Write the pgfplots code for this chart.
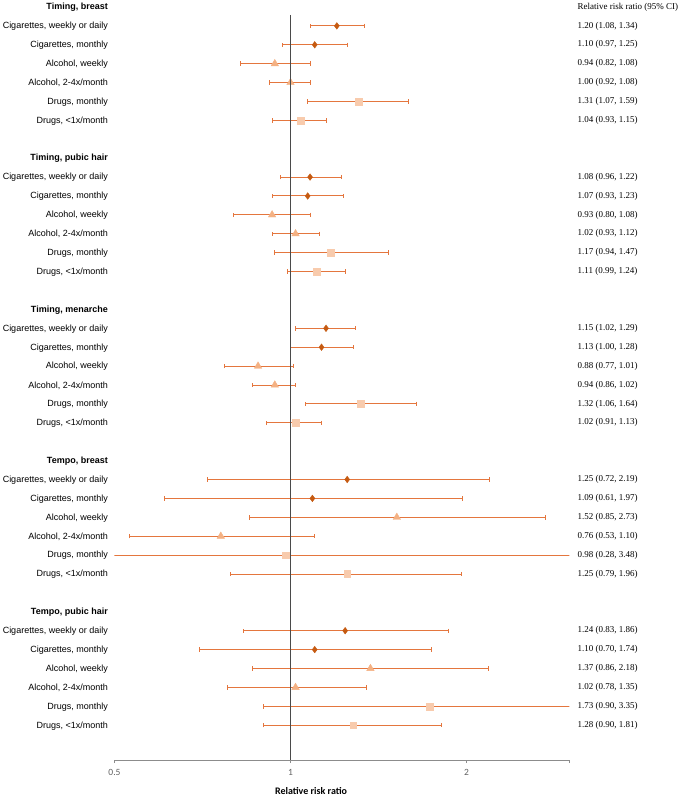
\documentclass[border=0pt]{standalone}
\usepackage{fontspec}
\setmainfont{Liberation Serif}
\newfontfamily\arial{Liberation Sans}
\newfontfamily\calibri{Carlito}
\usepackage{pgfplots}
\usepackage{pgfplotstable}
\pgfplotsset{compat=1.18}

\definecolor{cigc}{HTML}{C55A11}
\definecolor{alcc}{HTML}{F4B183}
\definecolor{drugc}{HTML}{F8CBAD}
\definecolor{barc}{HTML}{E4763E}
\definecolor{refc}{HTML}{4A4A4A}
\definecolor{axc}{HTML}{8C8C8C}

% row = vertical slot (0 = top header, counted downward)
\pgfplotstableread{
row est lo hi
-1  1.20 1.08 1.34
-2  1.10 0.97 1.25
-9  1.08 0.96 1.22
-10 1.07 0.93 1.23
-17 1.15 1.02 1.29
-18 1.13 1.00 1.28
-25 1.25 0.72 2.19
-26 1.09 0.61 1.97
-33 1.24 0.83 1.86
-34 1.10 0.70 1.74
}\cig
\pgfplotstableread{
row est lo hi
-3  0.94 0.82 1.08
-4  1.00 0.92 1.08
-11 0.93 0.80 1.08
-12 1.02 0.93 1.12
-19 0.88 0.77 1.01
-20 0.94 0.86 1.02
-27 1.52 0.85 2.73
-28 0.76 0.53 1.10
-35 1.37 0.86 2.18
-36 1.02 0.78 1.35
}\alc
\pgfplotstableread{
row est lo hi
-5  1.31 1.07 1.59
-6  1.04 0.93 1.15
-13 1.17 0.94 1.47
-14 1.11 0.99 1.24
-21 1.32 1.06 1.64
-22 1.02 0.91 1.13
-29 0.98 0.28 3.48
-30 1.25 0.79 1.96
-37 1.73 0.90 3.35
-38 1.28 0.90 1.81
}\drug

\pgfplotsset{
  ci/.style={
    only marks,
    error bars/x dir=both, error bars/x explicit,
    error bars/error mark=|,
    error bars/error bar style={barc, line width=1bp},
    error bars/error mark options={barc, line width=1bp, mark size=2.2bp},
  },
}

\newcommand\rowfont{\fontsize{9bp}{10bp}\selectfont}
\tikzset{rr/.style={anchor=west, inner sep=0pt, xshift=8bp, font=\rowfont}}

\begin{document}
\begin{tikzpicture}
\path[use as bounding box] (-114.5bp,-40bp) rectangle (568.5bp,760bp);

\begin{axis}[
  scale only axis, width=455bp, height=760bp,
  xmode=log, xmin=0.5, xmax=3,
  ymin=-39.84, ymax=0.37,
  at={(0,0)}, anchor=south west,
  clip mode=individual,
  axis x line*=bottom, axis y line*=left,
  y axis line style={draw=none},
  x axis line style={axc, line width=0.8bp},
  xtick={0.5,1,2,3}, xticklabels={0.5,1,2,{}},
  xtick align=outside, major tick length=3bp,
  x tick style={axc, line width=0.8bp},
  xticklabel style={font=\calibri\fontsize{9.5bp}{10bp}\selectfont, text=black!62, anchor=north, inner sep=0pt, yshift=-6bp},
  ytick={0,-1,-2,-3,-4,-5,-6,-8,-9,-10,-11,-12,-13,-14,-16,-17,-18,-19,-20,-21,-22,-24,-25,-26,-27,-28,-29,-30,-32,-33,-34,-35,-36,-37,-38},
  yticklabels={
    {\textbf{Timing, breast}},{Cigarettes, weekly or daily},{Cigarettes, monthly},{Alcohol, weekly},{Alcohol, 2-4x/month},{Drugs, monthly},{Drugs, <1x/month},
    {\textbf{Timing, pubic hair}},{Cigarettes, weekly or daily},{Cigarettes, monthly},{Alcohol, weekly},{Alcohol, 2-4x/month},{Drugs, monthly},{Drugs, <1x/month},
    {\textbf{Timing, menarche}},{Cigarettes, weekly or daily},{Cigarettes, monthly},{Alcohol, weekly},{Alcohol, 2-4x/month},{Drugs, monthly},{Drugs, <1x/month},
    {\textbf{Tempo, breast}},{Cigarettes, weekly or daily},{Cigarettes, monthly},{Alcohol, weekly},{Alcohol, 2-4x/month},{Drugs, monthly},{Drugs, <1x/month},
    {\textbf{Tempo, pubic hair}},{Cigarettes, weekly or daily},{Cigarettes, monthly},{Alcohol, weekly},{Alcohol, 2-4x/month},{Drugs, monthly},{Drugs, <1x/month}},
  y tick style={draw=none},
  yticklabel style={font=\arial\rowfont, anchor=east, inner sep=0pt, xshift=-6.5bp, yshift=-0.5bp},
  xlabel={Relative risk ratio},
  xlabel style={font=\calibri\bfseries\fontsize{10bp}{12bp}\selectfont, at={(axis description cs:0.432,0)}, anchor=center, yshift=-31bp},
]
\addplot[ci, mark=diamond*, mark size=3.3bp, mark options={cigc}]
  table[x=est, y=row, x error plus expr=\thisrow{hi}-\thisrow{est}, x error minus expr=\thisrow{est}-\thisrow{lo}] {\cig};
\addplot[ci, mark=triangle*, mark size=4.3bp, mark options={alcc}]
  table[x=est, y=row, x error plus expr=\thisrow{hi}-\thisrow{est}, x error minus expr=\thisrow{est}-\thisrow{lo}] {\alc};
\addplot[ci, mark=square*, mark size=3.4bp, mark options={drugc}]
  table[x=est, y=row, x error plus expr=\thisrow{hi}-\thisrow{est}, x error minus expr=\thisrow{est}-\thisrow{lo}] {\drug};
% line of no effect
\draw[refc, line width=1bp] (axis cs:1,-0.42) -- (axis cs:1,-39.84);

% estimates with confidence intervals, listed on the right
\node[rr] at (axis cs:3,0) {Relative risk ratio (95\% CI)};
\node[rr] at (axis cs:3,-1) {1.20 (1.08, 1.34)};
\node[rr] at (axis cs:3,-2) {1.10 (0.97, 1.25)};
\node[rr] at (axis cs:3,-3) {0.94 (0.82, 1.08)};
\node[rr] at (axis cs:3,-4) {1.00 (0.92, 1.08)};
\node[rr] at (axis cs:3,-5) {1.31 (1.07, 1.59)};
\node[rr] at (axis cs:3,-6) {1.04 (0.93, 1.15)};
\node[rr] at (axis cs:3,-9) {1.08 (0.96, 1.22)};
\node[rr] at (axis cs:3,-10) {1.07 (0.93, 1.23)};
\node[rr] at (axis cs:3,-11) {0.93 (0.80, 1.08)};
\node[rr] at (axis cs:3,-12) {1.02 (0.93, 1.12)};
\node[rr] at (axis cs:3,-13) {1.17 (0.94, 1.47)};
\node[rr] at (axis cs:3,-14) {1.11 (0.99, 1.24)};
\node[rr] at (axis cs:3,-17) {1.15 (1.02, 1.29)};
\node[rr] at (axis cs:3,-18) {1.13 (1.00, 1.28)};
\node[rr] at (axis cs:3,-19) {0.88 (0.77, 1.01)};
\node[rr] at (axis cs:3,-20) {0.94 (0.86, 1.02)};
\node[rr] at (axis cs:3,-21) {1.32 (1.06, 1.64)};
\node[rr] at (axis cs:3,-22) {1.02 (0.91, 1.13)};
\node[rr] at (axis cs:3,-25) {1.25 (0.72, 2.19)};
\node[rr] at (axis cs:3,-26) {1.09 (0.61, 1.97)};
\node[rr] at (axis cs:3,-27) {1.52 (0.85, 2.73)};
\node[rr] at (axis cs:3,-28) {0.76 (0.53, 1.10)};
\node[rr] at (axis cs:3,-29) {0.98 (0.28, 3.48)};
\node[rr] at (axis cs:3,-30) {1.25 (0.79, 1.96)};
\node[rr] at (axis cs:3,-33) {1.24 (0.83, 1.86)};
\node[rr] at (axis cs:3,-34) {1.10 (0.70, 1.74)};
\node[rr] at (axis cs:3,-35) {1.37 (0.86, 2.18)};
\node[rr] at (axis cs:3,-36) {1.02 (0.78, 1.35)};
\node[rr] at (axis cs:3,-37) {1.73 (0.90, 3.35)};
\node[rr] at (axis cs:3,-38) {1.28 (0.90, 1.81)};
\end{axis}
\end{tikzpicture}
\end{document}
